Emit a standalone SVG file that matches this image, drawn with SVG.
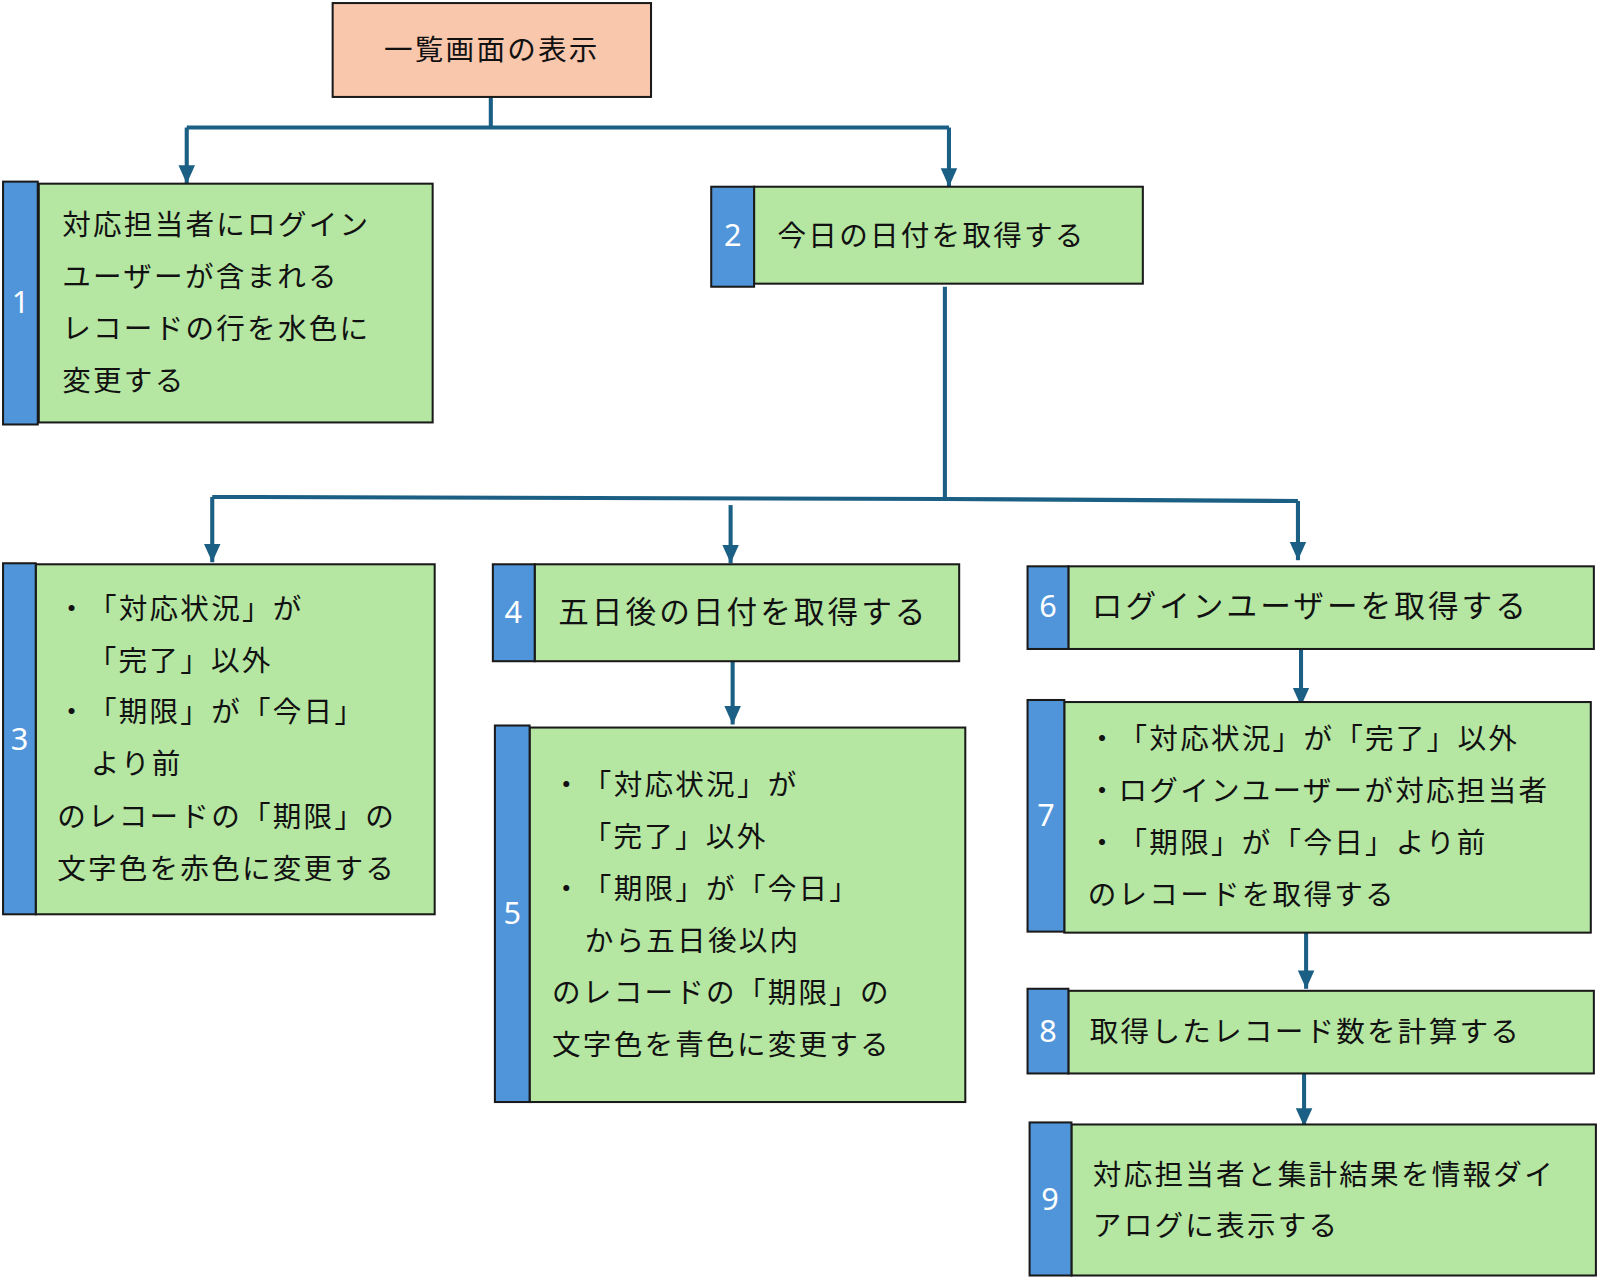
<svg xmlns="http://www.w3.org/2000/svg" width="1600" height="1280" viewBox="0 0 1600 1280">
<defs>
<style>
.box{fill:#B5E6A2;stroke:#1a1a1a;stroke-width:2}
.tab{fill:#5095DA;stroke:#1a1a1a;stroke-width:2}
.top{fill:#F8C7AC;stroke:#1a1a1a;stroke-width:2}
.t{font-family:"Noto Sans CJK JP","Noto Sans",sans-serif;font-size:28px;letter-spacing:2.2px;fill:#111;text-spacing-trim:space-all;font-feature-settings:"chws" 0,"halt" 0}
.big{font-size:30px;letter-spacing:3px}
.n{font-family:"Noto Sans","Liberation Sans",sans-serif;font-size:30px;fill:#fff;text-anchor:middle}
.c{fill:none;stroke:#1B5F84;stroke-width:4}
</style>
<marker id="ah" viewBox="0 0 10 10" refX="10" refY="5" markerUnits="userSpaceOnUse" markerWidth="18" markerHeight="18" orient="auto">
<path d="M0,0.5 L10,5 L0,9.5 Z" fill="#1B5F84"/>
</marker>
</defs>
<rect width="1600" height="1280" fill="#fff"/>
<g transform="scale(1.0204)">
<g id="connectors">
<path class="c" d="M481,95 V125"/>
<path class="c" d="M183,125 H930"/>
<path class="c" d="M183,125 V180" marker-end="url(#ah)"/>
<path class="c" d="M930,125 V183" marker-end="url(#ah)"/>
<path class="c" d="M926,281 V489"/>
<path class="c" d="M208,487 L926,489 L1272,491"/>
<path class="c" d="M208,487 V551" marker-end="url(#ah)"/>
<path class="c" d="M716,495 V552" marker-end="url(#ah)"/>
<path class="c" d="M1272,491 V549" marker-end="url(#ah)"/>
<path class="c" d="M718,648 V710" marker-end="url(#ah)"/>
<path class="c" d="M1275,636 V692" marker-end="url(#ah)"/>
<path class="c" d="M1280,913 V969" marker-end="url(#ah)"/>
<path class="c" d="M1278,1049 V1104" marker-end="url(#ah)"/>
</g>
<g id="node0">
<rect class="top" x="326" y="3" width="312" height="92"/>
<text class="t" x="482" y="59" text-anchor="middle">一覧画面の表示</text>
</g>
<g id="node1">
<rect class="box" x="38" y="180" width="386" height="234"/>
<rect class="tab" x="3" y="178" width="34" height="238"/>
<text class="n" x="20" y="307">1</text>
<text class="t" x="61" y="230">対応担当者にログイン</text>
<text class="t" x="61" y="281">ユーザーが含まれる</text>
<text class="t" x="61" y="332">レコードの行を水色に</text>
<text class="t" x="61" y="383">変更する</text>
</g>
<g id="node2">
<rect class="box" x="739" y="183" width="381" height="95"/>
<rect class="tab" x="697" y="183" width="42" height="98"/>
<text class="n" x="718" y="241">2</text>
<text class="t" x="762" y="241">今日の日付を取得する</text>
</g>
<g id="node3">
<rect class="box" x="35" y="553" width="391" height="343"/>
<rect class="tab" x="3" y="552" width="32" height="344"/>
<text class="n" x="19" y="735">3</text>
<text class="t" x="56" y="607">・「対応状況」が</text>
<text class="t" x="86" y="658">「完了」以外</text>
<text class="t" x="56" y="708">・「期限」が「今日」</text>
<text class="t" x="89" y="759">より前</text>
<text class="t" x="56" y="810">のレコードの「期限」の</text>
<text class="t" x="56" y="861">文字色を赤色に変更する</text>
</g>
<g id="node4">
<rect class="box" x="524" y="553" width="416" height="95"/>
<rect class="tab" x="483" y="553" width="41" height="95"/>
<text class="n" x="503" y="611">4</text>
<text class="t big" x="547" y="611">五日後の日付を取得する</text>
</g>
<g id="node5">
<rect class="box" x="519" y="713" width="427" height="367"/>
<rect class="tab" x="485" y="711" width="34" height="369"/>
<text class="n" x="502" y="906">5</text>
<text class="t" x="541" y="779">・「対応状況」が</text>
<text class="t" x="571" y="830">「完了」以外</text>
<text class="t" x="541" y="881">・「期限」が「今日」</text>
<text class="t" x="573" y="932">から五日後以内</text>
<text class="t" x="541" y="983">のレコードの「期限」の</text>
<text class="t" x="541" y="1034">文字色を青色に変更する</text>
</g>
<g id="node6">
<rect class="box" x="1047" y="555" width="515" height="81"/>
<rect class="tab" x="1007" y="555" width="40" height="81"/>
<text class="n" x="1027" y="605">6</text>
<text class="t big" x="1070" y="605">ログインユーザーを取得する</text>
</g>
<g id="node7">
<rect class="box" x="1043" y="688" width="516" height="226"/>
<rect class="tab" x="1007" y="686" width="36" height="227"/>
<text class="n" x="1025" y="809">7</text>
<text class="t" x="1066" y="734">・「対応状況」が「完了」以外</text>
<text class="t" x="1066" y="785">・ログインユーザーが対応担当者</text>
<text class="t" x="1066" y="836">・「期限」が「今日」より前</text>
<text class="t" x="1066" y="887">のレコードを取得する</text>
</g>
<g id="node8">
<rect class="box" x="1047" y="971" width="515" height="81"/>
<rect class="tab" x="1007" y="969" width="40" height="83"/>
<text class="n" x="1027" y="1021">8</text>
<text class="t" x="1068" y="1021">取得したレコード数を計算する</text>
</g>
<g id="node9">
<rect class="box" x="1050" y="1102" width="514" height="148"/>
<rect class="tab" x="1009" y="1100" width="41" height="150"/>
<text class="n" x="1029" y="1186">9</text>
<text class="t" x="1071" y="1161">対応担当者と集計結果を情報ダイ</text>
<text class="t" x="1071" y="1211">アログに表示する</text>
</g>
</g>
</svg>
